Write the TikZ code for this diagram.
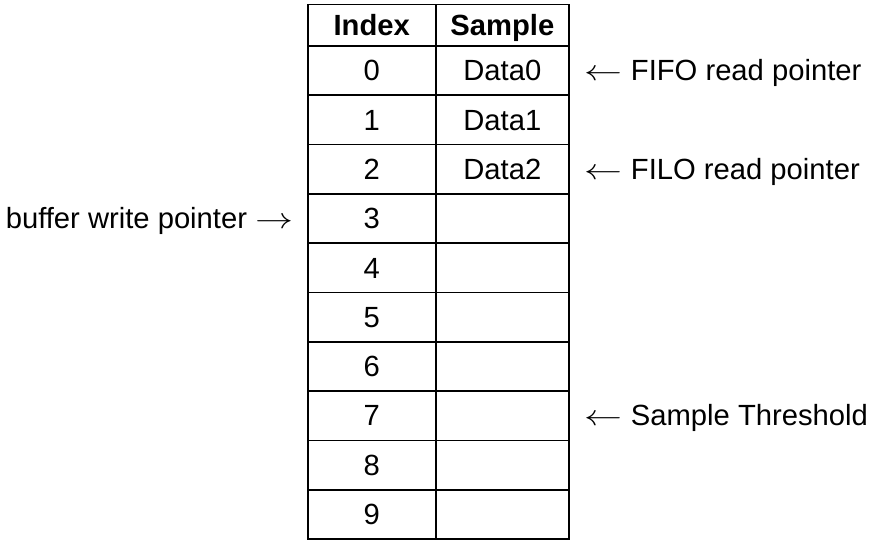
\RequirePackage{fix-cm}
\documentclass[tikz,border=0pt]{standalone}
\usepackage{fontspec}
\setmainfont{Liberation Sans}
\newcommand{\larr}{\scalebox{1.3}[1]{$\leftarrow$}}
\newcommand{\rarr}{\scalebox{1.3}[1]{$\rightarrow$}}
\begin{document}
\begin{tikzpicture}[x=1pt,y=-1pt,
  txt/.style={inner sep=0pt,font=\fontsize{29.2}{35}\selectfont},
  cell/.style={txt,anchor=base},
  hcell/.style={cell,font=\fontsize{29.2}{35}\selectfont\bfseries},
  gridline/.style={line width=1.8pt}]
\useasboundingbox (0,0) rectangle (872,540);
\def\xa{307.7}\def\xb{435.7}\def\xc{569}
\draw[gridline] (\xa,4.5) rectangle (\xc,539);
\draw[gridline] (\xb,4.5) -- (\xb,539);
\foreach \i in {0,...,9} { \draw[gridline] (\xa,{46+\i*49.3}) -- (\xc,{46+\i*49.3}); }
\node[hcell] (hidx) at (371.7,35.5) {Index};
\node[hcell] (hsmp) at (502.3,35.5) {Sample};
\foreach \i in {0,...,9} { \node[cell] (idx\i) at (371.7,{46+\i*49.3+34.8}) {\i}; }
\foreach \i in {0,1,2} { \node[cell] (smp\i) at (502.3,{46+\i*49.3+34.8}) {Data\i}; }
\node[txt,anchor=base west] (fifo) at (584,80.8) {\larr\hspace{0.3em}FIFO read pointer};
\node[txt,anchor=base west] (filo) at (584,179.4) {\larr\hspace{0.3em}FILO read pointer};
\node[txt,anchor=base west] (thr) at (584,425.9) {\larr\hspace{0.3em}Sample Threshold};
\node[txt,anchor=base east] (bwp) at (294,228.7) {buffer write pointer\hspace{0.3em}\rarr};
\end{tikzpicture}
\end{document}
